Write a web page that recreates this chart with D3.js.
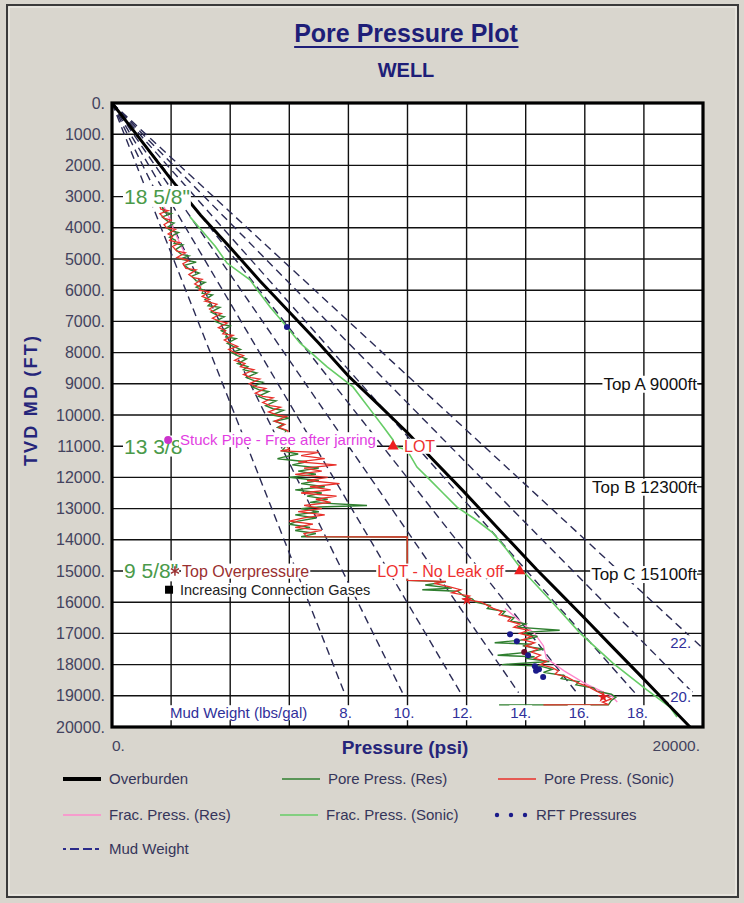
<!DOCTYPE html>
<html>
<head>
<meta charset="utf-8">
<script src="https://cdn.jsdelivr.net/npm/d3@7"></script>
<style>
  body { margin: 0; background: #d9d6ce; }
  text { font-family: "Liberation Sans", Arial, sans-serif; }
</style>
</head>
<body>
<svg width="744" height="903"></svg>
<script>

// ---- data (depth ft, pressure psi) ----

const depthTicks = [0, 1000, 2000, 3000, 4000, 5000, 6000, 7000, 8000, 9000, 10000,
    11000, 12000, 13000, 14000, 15000, 16000, 17000, 18000, 19000, 20000]
const psiGrid = [2000, 4000, 6000, 8000, 10000, 12000, 14000, 16000, 18000]
const mudWeights = [8, 10, 12, 14, 16, 18, 20, 22]

const overburden = [[0, 0], [1000, 820], [2450, 2000], [3600, 3000], [4630, 4000], [5700, 5000],
    [6700, 6000], [7700, 7000], [8750, 8000], [9650, 9000], [10570, 10000], [11500, 10930],
    [12400, 11850], [13700, 13130], [14950, 14370], [15700, 15150], [16450, 15930],
    [17400, 16900], [18370, 17900], [19200, 18740], [20000, 19560]]

const poreSonic = [[3100, 1500], [3180, 1720], [3260, 1600], [3400, 1650], [3450, 1900], [3550, 1620],
    [3700, 1780], [3760, 2000], [3900, 1760], [4000, 1850], [4050, 2150], [4200, 1900], [4280, 2050],
    [4400, 1950], [4480, 2300], [4600, 2050], [4750, 2200], [4800, 2480], [4950, 2200], [5050, 2600],
    [5150, 2400], [5300, 2500], [5350, 2850], [5500, 2600], [5600, 2750], [5650, 3050], [5800, 2800],
    [5900, 3000], [6000, 2950], [6050, 3300], [6200, 3050], [6300, 3300], [6350, 3150], [6450, 3550],
    [6600, 3300], [6700, 3450], [6750, 3700], [6900, 3400], [7000, 3650], [7050, 3900], [7200, 3600],
    [7300, 3850], [7400, 3750], [7450, 4100], [7600, 3800], [7700, 4000], [7800, 4250], [7900, 3950],
    [8000, 4150], [8100, 4450], [8250, 4150], [8350, 4500], [8450, 4350], [8550, 4800], [8700, 4450],
    [8800, 4700], [8850, 5000], [9000, 4650], [9100, 4900], [9150, 5200], [9300, 4850], [9400, 5100],
    [9450, 5450], [9600, 5100], [9700, 5350], [9750, 5700], [9900, 5300], [10000, 5600], [10050, 5900],
    [10200, 5500], [10300, 5850], [10400, 5650], [10500, 5950], [10700, 5950], [10900, 5800],
    [11100, 6000], [11150, 5700],
    [11200, 7000], [11300, 6400], [11400, 7200], [11500, 6300], [11600, 7600], [11700, 6500],
    [11800, 7100], [11900, 6200], [12000, 7300], [12100, 6600], [12200, 7700], [12300, 6700],
    [12400, 7400], [12500, 6400], [12600, 7600], [12700, 6900], [12800, 7400], [12900, 6500],
    [13000, 7100], [13100, 6300], [13200, 7200], [13300, 6500], [13400, 6000], [13500, 6800],
    [13600, 6200], [13700, 7100], [13800, 6500], [13900, 6600], [13910, 9990], [14500, 9990],
    [15300, 9990], [15330, 11300], [15400, 10900], [15500, 11400], [15600, 11800], [15700, 11500],
    [15800, 12100], [15900, 11900], [16000, 12500], [16100, 12700], [16200, 12900], [16300, 13200],
    [16400, 13100], [16500, 13500], [16600, 13400], [16700, 13800], [16800, 13600], [16900, 14100],
    [17000, 13800], [17100, 14200], [17200, 13900], [17300, 14300], [17400, 14000], [17500, 14400],
    [17600, 14200], [17700, 14500], [17800, 14300], [17900, 14700], [18000, 14500], [18100, 14900],
    [18200, 15100], [18300, 15000], [18400, 15400], [18500, 15600], [18600, 15800], [18700, 16100],
    [18800, 16300], [18900, 16500], [19000, 16700], [19100, 16900], [19200, 16600], [19280, 16800],
    [19290, 14600]]

const poreRes = [[3200, 1600], [3280, 1800], [3350, 1700], [3500, 1750], [3550, 2000], [3650, 1700],
    [3800, 1900], [3850, 2100], [4000, 1850], [4100, 2000], [4150, 2250], [4300, 1950], [4400, 2150],
    [4500, 2100], [4550, 2400], [4700, 2150], [4850, 2350], [4900, 2600], [5000, 2300], [5100, 2850],
    [5200, 2450], [5350, 2650], [5450, 2950], [5550, 2700], [5700, 2850], [5750, 3150], [5900, 2850],
    [6000, 3100], [6100, 3050], [6150, 3400], [6300, 3150], [6400, 3350], [6500, 3250], [6550, 3650],
    [6700, 3350], [6800, 3550], [6850, 3800], [7000, 3500], [7100, 3750], [7150, 4000], [7300, 3700],
    [7400, 3900], [7500, 3850], [7550, 4200], [7700, 3900], [7800, 4100], [7900, 4350], [8000, 4050],
    [8100, 4250], [8200, 4550], [8350, 4250], [8450, 4600], [8550, 4450], [8650, 4900], [8800, 4550],
    [8900, 4800], [8950, 5100], [9100, 4750], [9200, 5000], [9250, 5300], [9400, 4950], [9500, 5200],
    [9550, 5550], [9700, 5200], [9800, 5450], [9850, 5800], [10000, 5400], [10100, 6000], [10200, 5500],
    [10300, 5800], [10400, 5600], [10500, 5900], [10700, 5750], [10900, 5950], [11100, 5800],
    [11150, 5750], [11250, 6300], [11350, 5800], [11400, 5600], [11500, 6600],
    [11600, 6100], [11700, 7000], [11800, 6300], [11900, 6900], [12000, 6000], [12100, 7000],
    [12200, 6400], [12300, 7200], [12400, 6200], [12500, 7100], [12600, 6600], [12700, 7300],
    [12800, 6700], [12900, 8630], [12950, 7000], [13000, 6400], [13100, 7000], [13200, 6200],
    [13300, 6900], [13400, 6300], [13500, 6000], [13600, 6700], [13700, 6200], [13800, 6900],
    [13900, 6400], [13910, 9990], [14500, 9990], [15300, 9990], [15350, 11300], [15450, 10600],
    [15550, 11500], [15600, 10500], [15650, 11700], [15800, 11900], [15900, 12200], [16000, 12300],
    [16100, 12800], [16200, 12700], [16300, 13300], [16400, 13200], [16500, 13600], [16600, 13500],
    [16700, 14000], [16800, 13700], [16900, 15150], [16950, 14200], [17000, 13900], [17100, 14400],
    [17200, 14000], [17300, 12950], [17350, 14200], [17400, 13900], [17500, 14600], [17600, 14100],
    [17700, 13050], [17750, 14300], [17800, 14000], [17900, 14800], [18000, 13200], [18050, 14500],
    [18150, 14900], [18250, 14600], [18350, 15300], [18450, 15200], [18550, 15800], [18650, 15700],
    [18750, 16300], [18850, 16400], [18950, 16900], [19050, 17050], [19150, 16900], [19290, 16800],
    [19290, 13100]]

const fracSonic = [[3650, 2640], [4100, 3050], [4600, 3500], [5130, 3890], [5670, 4670], [6100, 5000],
    [6540, 5350], [7180, 5920], [7690, 6360], [8460, 7280], [9100, 8155], [9940, 8830], [10400, 9200],
    [10800, 9510], [11000, 9560], [11120, 9980], [11670, 10320], [12080, 10760], [12500, 11200],
    [12950, 11675], [13350, 12300], [13780, 12890], [14300, 13350], [14870, 13800], [15000, 13850],
    [15130, 14040], [16000, 14900], [16990, 15840], [17950, 16950], [18810, 18100], [19360, 18880],
    [19680, 19120]]

const fracRes = [[3300, 1750], [3700, 1950], [4100, 2100], [4500, 2300], [4900, 2500], null,
    [16200, 13300], [16600, 13800], [17000, 14300], [17400, 14600], [17800, 14700], [18200, 15300],
    [18600, 16000], [19000, 16900], [19200, 17100]]

const rftPoints = [[7180, 5920], [17030, 13470], [17250, 13700], [17600, 13950], [17700, 14080],
    [18050, 14310], [18150, 14450], [18200, 14350], [18400, 14590]]

const poreMarks = [[15930, 12010], [19040, 16620]]

const casingDepths = [3000, 11000, 15000]
const casingNames = ['18 5/8"', '13 3/8', '9 5/8"']

const topDepths = [9000, 12300, 15100]
const topNames = ["Top A 9000ft", "Top B 12300ft", "Top C 15100ft"]

// LOT tests: depth, psi
const lotTests = [[11000, 9510], [15000, 13800]]
const lotNames = ["LOT", "LOT - No Leak off"]

// ---- drawing ----

const svg = d3.select("svg")
const x = d3.scaleLinear().domain([0, 20000]).range([112, 703])
const y = d3.scaleLinear().domain([0, 20000]).range([103, 727])

// frame
svg.append("rect").attr("x", 7).attr("y", 5).attr("width", 731).attr("height", 892)
    .attr("fill", "none").attr("stroke", "#3a3a3a").attr("stroke-width", 2)
svg.append("rect").attr("x", 9).attr("y", 7).attr("width", 727).attr("height", 888)
    .attr("fill", "none").attr("stroke", "#f4f2ec").attr("stroke-width", 1)

// a text with a white box behind it (the plot hides lines under labels)
const label = function (g, px, py, txt, o) {
    o = Object.assign({size: 15, color: "#000", anchor: "start", weight: "normal", bg: null}, o)
    const t = g.append("text")
        .attr("x", px).attr("y", py).attr("dy", "0.35em")
        .attr("text-anchor", o.anchor)
        .attr("font-size", o.size)
        .attr("font-weight", o.weight)
        .attr("fill", o.color)
        .text(txt)
    if (o.bg) {
        const b = t.node().getBBox()
        g.insert("rect", function () { return t.node() })
            .attr("x", b.x - 1).attr("y", b.y + 1)
            .attr("width", b.width + 2).attr("height", b.height - 2)
            .attr("fill", o.bg)
    }
    return t
}

// title
const title = label(svg, 406, 33, "Pore Pressure Plot", {size: 25, weight: "bold", color: "#1e1e78", anchor: "middle"})
const tb = title.node().getBBox()
svg.append("line").attr("x1", tb.x).attr("x2", tb.x + tb.width)
    .attr("y1", 47).attr("y2", 47).attr("stroke", "#1e1e78").attr("stroke-width", 2)
label(svg, 406, 70, "WELL", {size: 20, weight: "bold", color: "#1e1e78", anchor: "middle"})

// plot background
svg.append("rect").attr("x", x(0)).attr("y", y(0))
    .attr("width", x(20000) - x(0)).attr("height", y(20000) - y(0)).attr("fill", "#fff")

// grid
const grid = svg.append("g").attr("stroke", "#111").attr("stroke-width", 1.4)
grid.selectAll(".gx").data(psiGrid).join("line")
    .attr("x1", d => x(d)).attr("x2", d => x(d)).attr("y1", y(0)).attr("y2", y(20000))
grid.selectAll(".gy").data(depthTicks.slice(1, -1)).join("line")
    .attr("y1", d => y(d)).attr("y2", d => y(d)).attr("x1", x(0)).attr("x2", x(20000))

// depth labels
depthTicks.forEach(d => {
    label(svg, 105, y(d), d + ".", {size: 16, color: "#43435e", anchor: "end"})
})
label(svg, 112, 746, "0.", {size: 15.5, color: "#43435e"})
label(svg, 700, 746, "20000.", {size: 15.5, color: "#43435e", anchor: "end"})
label(svg, 405, 747, "Pressure (psi)", {size: 19, weight: "bold", color: "#25257a", anchor: "middle"})

svg.append("text")
    .attr("transform", "translate(31, 400) rotate(-90)")
    .attr("text-anchor", "middle").attr("dy", "0.35em")
    .attr("font-size", 18).attr("font-weight", "bold").attr("letter-spacing", 2.2)
    .attr("fill", "#25257a")
    .text("TVD MD (FT)")

// mud weight lines
const mwG = svg.append("g")
mudWeights.forEach(mw => {
    const grad = 0.052 * mw
    const endDepth = Math.min(18900, 20000 / grad)
    mwG.append("line")
        .attr("x1", x(0)).attr("y1", y(0))
        .attr("x2", x(grad * endDepth)).attr("y2", y(endDepth))
        .attr("stroke", "#2b2b55").attr("stroke-width", 1.4)
        .attr("stroke-dasharray", "8,5")
})

const line = d3.line().defined(d => d).x(d => x(d[1])).y(d => y(d[0]))
const curves = svg.append("g").attr("fill", "none")

curves.append("path").attr("d", line(fracRes)).attr("stroke", "#ff88cc").attr("stroke-width", 1.3)
curves.append("path").attr("d", line(fracSonic)).attr("stroke", "#66cc66").attr("stroke-width", 1.6)
curves.append("path").attr("d", line(poreRes)).attr("stroke", "#2f7f2f").attr("stroke-width", 1.4)
curves.append("path").attr("d", line(poreSonic)).attr("stroke", "#e8302a").attr("stroke-width", 1.3)
curves.append("path").attr("d", line(overburden)).attr("stroke", "#000").attr("stroke-width", 3)

// RFT points
svg.append("g").selectAll("circle").data(rftPoints).join("circle")
    .attr("cx", d => x(d[1])).attr("cy", d => y(d[0])).attr("r", 3)
    .attr("fill", (d, i) => i === 3 ? "#6a0a2a" : "#1a1a8a")

svg.append("g").selectAll("path").data(poreMarks).join("path")
    .attr("transform", d => `translate(${x(d[1])},${y(d[0])})`)
    .attr("d", d3.symbol(d3.symbolStar, 40))
    .attr("fill", "#e02020")

// annotations
const ann = svg.append("g")
casingDepths.forEach((d, i) => {
    label(ann, 124, y(d), casingNames[i], {size: 21, color: "#4a9a4a", bg: "#fff"})
})
topDepths.forEach((d, i) => {
    label(ann, 697, y(d), topNames[i], {size: 17, color: "#111", anchor: "end", bg: "#fff"})
    ann.append("line").attr("x1", 697).attr("x2", 703).attr("y1", y(d)).attr("y2", y(d))
        .attr("stroke", "#111").attr("stroke-width", 1.2)
})

label(ann, 180, y(10800), "Stuck Pipe - Free after jarring", {size: 15, color: "#e23ee2", bg: "#fff"})
ann.append("circle").attr("cx", x(1900)).attr("cy", y(10800)).attr("r", 4).attr("fill", "#cc33cc")

label(ann, 182, y(15000), "Top Overpressure", {size: 16, color: "#9a3030", bg: "#fff"})
ann.append("path").attr("transform", `translate(${x(2130)},${y(15000)})`)
    .attr("d", d3.symbol(d3.symbolAsterisk, 60)).attr("stroke", "#9a3030").attr("stroke-width", 1.5)

label(ann, 180, y(15600), "Increasing Connection Gases", {size: 14.5, color: "#222", bg: "#fff"})
ann.append("rect").attr("x", x(1930) - 4).attr("y", y(15600) - 4).attr("width", 8).attr("height", 8)
    .attr("fill", "#000")

label(ann, x(lotTests[0][1]) + 11, y(lotTests[0][0]), lotNames[0], {size: 16, color: "#ee3030", bg: "#fff"})
label(ann, x(lotTests[1][1]) - 16, y(lotTests[1][0]), lotNames[1], {size: 16, color: "#ee3030", anchor: "end", bg: "#fff"})
ann.selectAll(".lot").data(lotTests).join("path")
    .attr("transform", d => `translate(${x(d[1])},${y(d[0])})`)
    .attr("d", d3.symbol(d3.symbolTriangle, 55))
    .attr("fill", "#ee2020")

// mud weight labels
label(ann, 170, y(19550), "Mud Weight (lbs/gal)", {size: 15, color: "#30309a", bg: "#fff"})
mudWeights.forEach(mw => {
    const grad = 0.052 * mw
    if (grad * 19000 <= 18500) {
        label(ann, x(grad * 19000), y(19550), mw + ".", {size: 15, color: "#30309a", anchor: "middle", bg: "#fff"})
    } else {
        label(ann, x(19800) - 6, y(19800 / grad), mw + ".", {size: 15, color: "#30309a", anchor: "end", bg: "#fff"})
    }
})

// plot border
svg.append("rect").attr("x", x(0)).attr("y", y(0))
    .attr("width", x(20000) - x(0)).attr("height", y(20000) - y(0))
    .attr("fill", "none").attr("stroke", "#000").attr("stroke-width", 3.2)

// legend
const legend = svg.append("g")
const legendRows = [779, 815, 849]
const legendItems = [
    {name: "Overburden", color: "#000", w: 4, x: 63, row: 0},
    {name: "Pore Press. (Res)", color: "#2f7f2f", w: 1.5, x: 282, row: 0},
    {name: "Pore Press. (Sonic)", color: "#e8302a", w: 1.5, x: 498, row: 0},
    {name: "Frac. Press. (Res)", color: "#ff88cc", w: 1.5, x: 63, row: 1},
    {name: "Frac. Press. (Sonic)", color: "#66cc66", w: 1.5, x: 280, row: 1},
    {name: "RFT Pressures", color: "#1a1a8a", dots: true, x: 494, row: 1},
    {name: "Mud Weight", color: "#2b2b8a", dash: true, x: 63, row: 2}
]
legendItems.forEach(it => {
    const ly = legendRows[it.row]
    if (it.dots) {
        [0, 14, 28].forEach(o => legend.append("circle").attr("cx", it.x + 3 + o).attr("cy", ly)
            .attr("r", 2.2).attr("fill", it.color))
    } else {
        legend.append("line").attr("x1", it.x).attr("x2", it.x + 38).attr("y1", ly).attr("y2", ly)
            .attr("stroke", it.color).attr("stroke-width", it.dash ? 2 : it.w)
            .attr("stroke-dasharray", it.dash ? "3,4,9,4,9" : null)
    }
    label(legend, it.x + (it.dots ? 42 : 46), ly, it.name, {size: 15, color: "#35355a"})
})

</script>
</body>
</html>
